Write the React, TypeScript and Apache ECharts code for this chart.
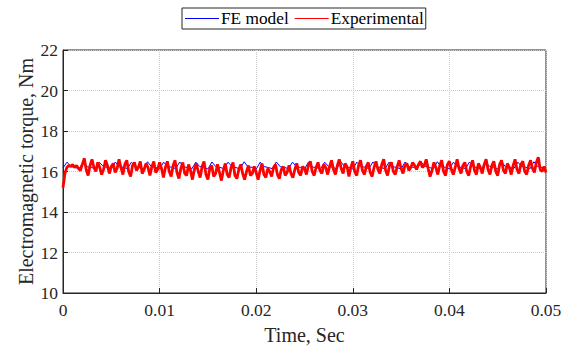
import React, { useEffect, useRef } from "react";
import * as echarts from "echarts";

const xRange = [0, 0.05];
const yRange = [10, 22];
const seriesNames = ["FE model", "Experimental"];

// FE model torque, sampled every 0.05/120 s
const feModel = [
  16.18, 16.46, 16.24, 16.2, 16.14, 16.47, 16.23, 16.21, 16.13, 16.46,
  16.25, 16.2, 16.12, 16.47, 16.22, 16.21, 16.14, 16.46, 16.24, 16.19,
  16.13, 16.48, 16.23, 16.2, 16.12, 16.46, 16.25, 16.21, 16.14, 16.47,
  16.22, 16.2, 16.13, 16.46, 16.24, 16.21, 16.12, 16.47, 16.23, 16.2,
  16.14, 16.46, 16.25, 16.19, 16.13, 16.48, 16.22, 16.21, 16.12, 16.46,
  16.24, 16.2, 16.14, 16.47, 16.23, 16.21, 16.13, 16.46, 16.25, 16.2,
  16.12, 16.47, 16.22, 16.19, 16.14, 16.46, 16.24, 16.21, 16.13, 16.48,
  16.23, 16.2, 16.12, 16.46, 16.25, 16.21, 16.14, 16.47, 16.22, 16.2,
  16.13, 16.46, 16.24, 16.19, 16.12, 16.47, 16.23, 16.21, 16.14, 16.46,
  16.25, 16.2, 16.13, 16.48, 16.22, 16.21, 16.12, 16.46, 16.24, 16.2,
  16.14, 16.47, 16.23, 16.19, 16.13, 16.46, 16.25, 16.21, 16.12, 16.47,
  16.22, 16.2, 16.14, 16.46, 16.24, 16.21, 16.13, 16.48, 16.23, 16.2,
  16.16,
];

// Experimental torque, sampled every 0.0002 s
const experimental = [
  15.2, 15.9, 16.2, 16.3, 16.25, 16.35, 16.2, 16.3, 16.15, 16.05,
  16.35, 16.65, 16.1, 15.8, 16.3, 16.6, 16.2, 16.0, 16.45, 16.2,
  15.85, 16.1, 16.55, 16.3, 15.9, 16.25, 16.4, 15.95, 16.15, 16.6,
  16.2, 15.85, 16.35, 16.55, 16.0, 15.75, 16.3, 16.45, 16.05, 16.2,
  16.5, 15.9, 16.1, 16.4, 16.2, 15.8, 16.25, 16.5, 15.95, 16.1,
  16.45, 16.15, 15.7, 16.2, 16.5, 16.0, 15.75, 16.3, 16.55, 15.95,
  15.65, 16.15, 16.45, 15.9, 15.8, 16.35, 16.05, 15.6, 16.1, 16.4,
  16.0, 15.7, 16.25, 16.5, 15.85, 15.6, 16.15, 16.3, 15.75, 15.9,
  16.35, 15.95, 15.55, 16.05, 16.4, 15.85, 15.7, 16.2, 16.45, 15.8,
  15.65, 16.1, 16.35, 15.9, 15.6, 16.0, 16.3, 15.8, 15.9, 16.25,
  15.95, 15.6, 16.05, 16.4, 15.85, 15.7, 16.15, 16.0, 15.75, 16.2,
  16.35, 15.85, 15.65, 16.1, 16.25, 15.8, 15.95, 16.3, 15.9, 15.7,
  16.1, 16.4, 15.95, 15.8, 16.25, 16.15, 15.85, 16.3, 16.5, 16.0,
  15.8, 16.2, 16.45, 16.05, 15.9, 16.35, 16.2, 15.85, 16.25, 16.55,
  16.1, 15.85, 16.3, 16.6, 16.15, 15.9, 16.4, 16.25, 15.75, 16.2,
  16.5, 16.0, 15.8, 16.3, 16.55, 16.05, 15.85, 16.25, 16.45, 15.95,
  15.75, 16.2, 16.5, 16.1, 15.9, 16.35, 16.6, 16.05, 15.8, 16.3,
  16.45, 16.0, 15.85, 16.25, 16.55, 16.15, 15.9, 16.3, 16.4, 16.05,
  16.2, 16.45, 16.3, 16.1, 16.35, 16.5, 16.2, 16.3, 16.6, 16.15,
  15.75, 16.05, 16.45, 16.2, 15.85, 16.3, 16.55, 16.0, 15.8, 16.35,
  16.5, 16.1, 15.85, 16.2, 16.6, 16.15, 15.9, 16.3, 16.45, 16.0,
  15.8, 16.25, 16.55, 16.05, 15.85, 16.4, 16.2, 15.9, 16.35, 16.6,
  16.1, 15.85, 16.3, 16.5, 16.0, 15.8, 16.35, 16.55, 16.05, 15.9,
  16.4, 16.2, 15.85, 16.3, 16.6, 16.1, 15.9, 16.35, 16.5, 16.0,
  15.85, 16.3, 16.55, 16.15, 15.95, 16.45, 16.7, 16.1, 16.0, 16.25,
  15.95,
];

export default function App() {
  const ref = useRef<HTMLDivElement>(null);
  useEffect(() => {
    document.body.style.margin = "0";
    const chart = echarts.init(ref.current!, null, { renderer: "svg" });
    const font = "Liberation Serif";
    const tEnd = xRange[1];
    const feData = feModel.map((v, i) => [(i * tEnd) / (feModel.length - 1), v]);
    const exData = experimental.map((v, i) => [(i * tEnd) / (experimental.length - 1), v]);
    const axisColor = "#262626";
    const split = { show: true, lineStyle: { type: "dotted", color: "#c8c8c8", width: 1 } };
    chart.setOption({
      animation: false,
      backgroundColor: "#fff",
      grid: {
        left: 63, right: 23, top: 50, bottom: 55,
        show: true, borderColor: axisColor, borderWidth: 1, backgroundColor: "transparent",
      },
      legend: {
        left: 182, top: 8,
        data: seriesNames,
        icon: "rect",
        itemWidth: 34, itemHeight: 1, itemGap: 6,
        itemStyle: { borderWidth: 0 },
        lineStyle: { width: 0 },
        borderColor: axisColor, borderWidth: 1, borderRadius: 0,
        padding: [2, 2, 2, 3],
        backgroundColor: "#fff",
        textStyle: { fontFamily: font, fontSize: 17.3, color: "#000", padding: [0, 0, 0, -3] },
      },
      xAxis: {
        type: "value", min: xRange[0], max: xRange[1], interval: 0.01,
        name: "Time, Sec", nameLocation: "middle", nameGap: 32, nameMoveOverlap: false,
        nameTextStyle: { fontFamily: font, fontSize: 20, color: axisColor },
        axisLine: { show: true, lineStyle: { color: axisColor } },
        axisTick: { show: true, inside: true, length: 5, lineStyle: { color: axisColor } },
        axisLabel: { fontFamily: font, fontSize: 17.5, color: axisColor, margin: 8 },
        splitLine: split,
      },
      yAxis: {
        type: "value", min: yRange[0], max: yRange[1], interval: 2,
        name: "Electromagnetic torque, Nm", nameLocation: "middle", nameGap: 27, nameMoveOverlap: false,
        nameTextStyle: { fontFamily: font, fontSize: 20, color: axisColor },
        axisLine: { show: true, lineStyle: { color: axisColor } },
        axisTick: { show: true, inside: true, length: 5, lineStyle: { color: axisColor } },
        axisLabel: { fontFamily: font, fontSize: 17.5, color: axisColor, margin: 5 },
        splitLine: split,
      },
      series: [
        {
          name: seriesNames[0], type: "line", data: feData, showSymbol: false,
          lineStyle: { color: "#0000ff", width: 1 }, itemStyle: { color: "#0000ff" }, z: 2,
        },
        {
          name: seriesNames[1], type: "line", data: exData, showSymbol: false,
          lineStyle: { color: "#ff0000", width: 2.8 }, itemStyle: { color: "#ff0000" }, z: 3,
        },
      ],
    });
    return () => chart.dispose();
  }, []);
  return <div ref={ref} style={{ position: "fixed", left: 0, top: 0, width: 569, height: 350 }} />;
}
